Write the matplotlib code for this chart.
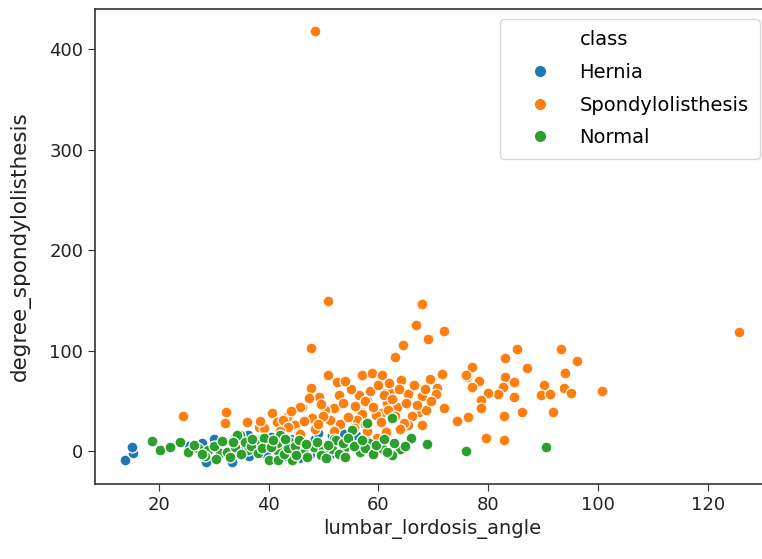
import numpy as np
import matplotlib
matplotlib.use("Agg")
import matplotlib.pyplot as plt
from matplotlib.lines import Line2D

# classes, drawn in dataset order (Hernia rows first, Normal last)
classes = ["Hernia", "Spondylolisthesis", "Normal"]
colors = ["#1f77b4", "#ff7f0e", "#2ca02c"]

# Hernia : lumbar_lordosis_angle / degree_spondylolisthesis
hernia_x = [13.8, 15.3, 15.2, 28.7, 33.3, 27.8, 31.7, 33.6, 36.3, 53.7,
            29.5, 31.0, 35.0, 36.5, 38.0, 39.5, 40.5, 42.0, 43.0, 44.5,
            46.0, 47.5, 48.5, 50.5, 52.0, 55.0, 56.0, 30.0, 37.5, 25.5,
            34.0, 45.5, 49.0, 51.5, 57.5]
hernia_y = [-9, -2, 4, -11, -11, 8, 9, 11, 16, 17,
            2, -4, 5, -5, 6, -3, 14, 5, -5, 12,
            4, -3, 12, 5, -2, 8, 16, 12, 11, 5,
            0, -7, 18, 15, 14]

# Spondylolisthesis
spondy_x = [48.4, 125.7, 50.8, 68.0, 66.8, 72.0, 69.1, 64.5, 63.1, 47.7,
            85.2, 83.1, 93.3, 96.2, 87.1, 93.9, 77.0, 60.9, 64.1, 76.1,
            78.4, 77.0, 71.6, 69.4, 70.6, 70.5, 65.3, 68.0, 61.0, 62.3,
            83.1, 84.6, 82.6, 81.7, 79.9, 78.7, 78.7, 84.6, 90.2, 89.6,
            91.2, 93.8, 95.1, 100.8, 91.8, 86.1, 82.8, 79.6, 82.9, 76.3,
            74.4, 72.0, 67.9, 67.4, 68.7, 66.2, 65.3, 50.8, 52.4, 47.7,
            57.0, 58.9, 60.7, 75.9, 63.4, 64.6, 56.4, 52.8, 49.1, 51.9,
            47.9, 53.0, 56.9, 58.0, 60.4, 61.6, 59.8, 46.1, 50.3, 24.4,
            32.2, 32.1, 36.0, 38.2, 39.1, 40.6, 41.5, 43.3, 44.9, 45.8,
            47.3, 43.0, 45.5, 42.7, 43.6, 51.2, 61.0, 57.6, 57.0, 59.5,
            61.3, 56.1, 55.5, 45.8, 44.0, 46.5, 48.5, 49.5, 50.0, 52.0,
            53.5, 54.5, 55.0, 55.8, 57.5, 58.5, 59.0, 60.0, 60.5, 61.8,
            62.5, 63.0, 63.8, 64.0, 65.0, 66.5, 67.0, 68.5, 69.5, 42.0,
            38.5, 58.0, 49.0, 54.0, 62.0]
spondy_y = [418.5, 118.4, 150, 147, 126, 120, 112, 106, 94, 103,
            102, 93, 102, 90, 83, 78, 84, 75, 71, 74,
            70, 64, 77, 72, 63, 57, 57, 55, 58, 58,
            74, 69, 64, 57, 58, 51, 43, 54, 66, 56,
            57, 63, 58, 60, 39, 39, 35, 13, 11, 34,
            30, 43, 26, 39, 41, 35, 26, 76, 69, 63,
            76, 78, 76, 76, 44, 28, 56, 56, 54, 43,
            33, 27, 39, 51, 38, 48, 13, 44, 41, 35,
            39, 28, 29, 24, 23, 38, 29, 34, 26, 44,
            53, 23, 18, 31, 24, 31, 56, 50, 37, 36,
            19, 31, 23, 17, 40, 30, 22, 47, 35, 20,
            48, 34, 62, 45, 27, 60, 44, 66, 29, 41,
            52, 35, 62, 22, 48, 66, 46, 62, 50, 20,
            30, 20, 27, 70, 68]

# Normal
normal_x = [18.8, 20.2, 23.8, 25.4, 27.2, 29.0, 31.2, 32.4, 33.9, 34.8,
            36.3, 35.7, 37.6, 39.7, 41.5, 40.0, 41.8, 44.5, 46.1, 47.4,
            42.1, 43.9, 39.1, 62.5, 65.9, 68.9, 75.9, 90.6, 60.9, 63.9,
            62.5, 62.8, 58.0, 55.2, 51.9, 58.2, 56.7, 53.7, 51.6, 48.2,
            46.4, 52.2, 50.0, 44.3, 41.5, 34.2, 26.5, 28.5, 30.0, 31.5,
            33.0, 35.0, 36.8, 38.0, 38.8, 40.5, 42.8, 43.5, 44.8, 45.5,
            47.0, 48.8, 49.5, 50.8, 52.8, 53.5, 54.5, 55.5, 57.5, 59.0,
            59.5, 61.5, 37.0, 30.5, 27.8, 33.5, 45.0, 54.0, 57.0, 61.0,
            64.8, 22.0, 40.8, 46.8, 50.5, 43.0]
normal_y = [10, 1, 9, -1, 3, 1, -2, -1, 4, 16,
            1, 9, 8, 8, 1, -9, -9, -9, -1, 3,
            16, 9, 13, 33, 13, 7, 0, 4, 2, 2,
            -4, 8, 28, 21, 12, 8, -1, 3, 2, 4,
            -2, 11, 1, -9, 8, 16, 6, -5, 5, 10,
            -6, -3, 5, -2, 3, 4, -3, 3, 5, 11,
            -6, 9, -4, 6, -3, 8, 13, 5, 3, -3,
            6, -1, 12, -8, -3, 9, -4, -6, 11, 12,
            5, 4, 11, 7, -7, 12]

xs = [hernia_x, spondy_x, normal_x]
ys = [hernia_y, spondy_y, normal_y]

plt.rcParams['font.family'] = ['DejaVu Sans']
fig = plt.figure(figsize=(7.62, 5.59), dpi=100)
ax = fig.add_axes([95/762, 75/559, 675/762, 475/559])

for cx, cy, col in zip(xs, ys, colors):
    ax.scatter(cx, cy, s=62, c=col, edgecolors="white", linewidths=0.9)

ax.set_xlim(8.4, 131.3)
ax.set_ylim(-32.5, 440)
ax.set_xticks([20, 40, 60, 80, 100, 120])
ax.set_yticks([0, 100, 200, 300, 400])
ax.tick_params(labelsize=13, length=5, color="#333333", labelcolor="#222222")
ax.set_xlabel("lumbar_lordosis_angle", fontsize=14, color="#222222")
ax.set_ylabel("degree_spondylolisthesis", fontsize=15.5, color="#222222", labelpad=13)
for sp in ax.spines.values():
    sp.set_color("#333333")
    sp.set_linewidth(1.2)

# legend in the old seaborn style: "class" as a first entry
handles = [Line2D([], [], linestyle="none", marker="none")]
labels = ["class"]
for name, col in zip(classes, colors):
    handles.append(Line2D([], [], linestyle="none", marker="o", markersize=9,
                          markerfacecolor=col, markeredgecolor="white"))
    labels.append(name)
ax.legend(handles, labels, loc="upper right", fontsize=14, borderpad=0.6,
          handlelength=2.9, handletextpad=0.6, labelspacing=0.7)

fig.savefig("out.png", dpi=100)
